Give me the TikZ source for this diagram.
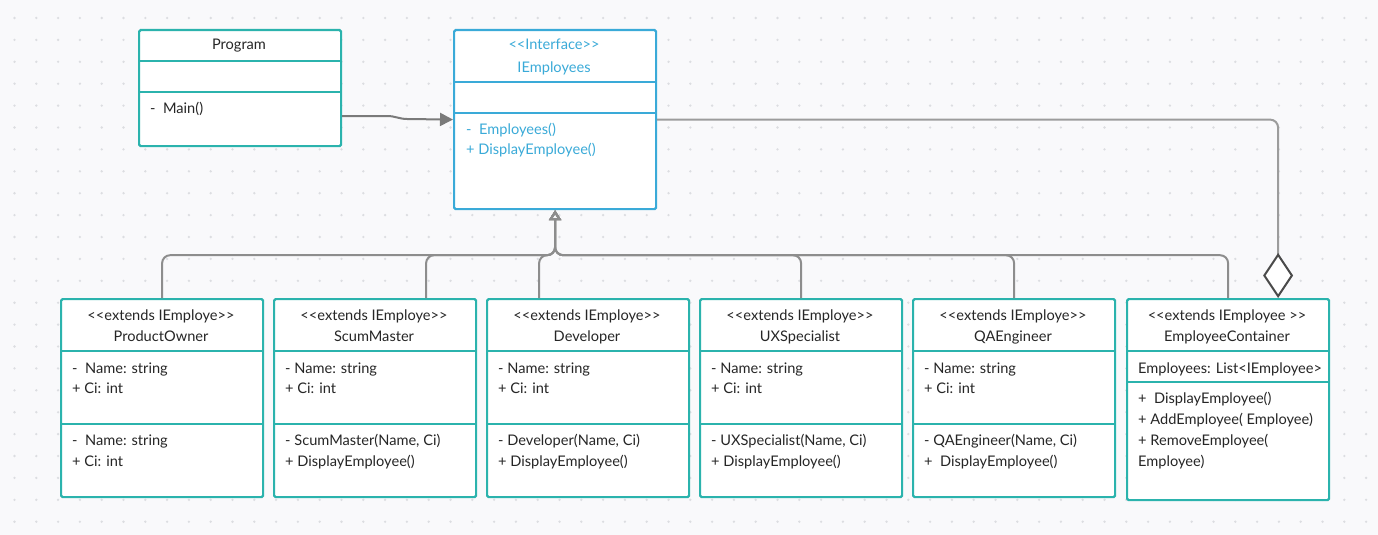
\documentclass[tikz,border=0pt]{standalone}
\usepackage{fontspec}
\setmainfont{Lato}[Ligatures=TeXOff]
\usetikzlibrary{arrows.meta,calc}
\definecolor{teal0}{HTML}{2BB3AD}
\definecolor{blue0}{HTML}{3AAAD8}
\definecolor{ink}{HTML}{262626}
\definecolor{wire}{HTML}{8D8D8D}
\definecolor{wiredark}{HTML}{7A7A7A}
\definecolor{wirelight}{HTML}{9C9C9C}
\definecolor{diam}{HTML}{4A4A4A}
\definecolor{bg}{HTML}{F9F9FB}
\definecolor{dotc}{HTML}{DCDDE1}
\newcommand\fsz{\fontsize{14.6pt}{17pt}\selectfont}
\newcommand\lsym{\symbol{60}}
\newcommand\gsym{\symbol{62}}
\begin{document}
\begin{tikzpicture}[x=1pt,y=-1pt,
  umlbox/.style={draw=teal0, line width=2.2pt, fill=white, rounded corners=1.5pt,
    minimum width=202pt, anchor=north west, inner sep=0},
  ibox/.style={umlbox, draw=blue0},
  div/.style={draw=teal0, line width=2pt},
  idiv/.style={draw=blue0, line width=2pt},
  lbl/.style={font=\fsz, text=ink, inner sep=0},
  ilbl/.style={lbl, text=blue0},
  inh/.style={draw=wire, line width=2pt, rounded corners=8pt,
    -{Triangle[open, width=12pt, length=10pt]}},
]
\fill[bg] (0,0) rectangle (1378,535);
\useasboundingbox (0,0) rectangle (1378,535);
\foreach \i in {0,...,62}{
  \foreach \j in {0,...,24}{
    \fill[dotc] (14.5+21.8*\i, 18+21.9*\j) circle (1.3pt);
  }
}

% Program
\node[umlbox, minimum height=116pt] (prog) at (138,29) {};
\draw[div] (138,61) -- (340,61);
\draw[div] (138,92) -- (340,92);
\node[lbl, anchor=base] (progT) at (239,50) {Program};
\node[lbl, anchor=base west] (progM) at (150,113) {-\ \ Main()};

% IEmployees
\node[ibox, minimum height=179pt] (ie) at (453,29) {};
\draw[idiv] (453,82) -- (655,82);
\draw[idiv] (453,113) -- (655,113);
\node[ilbl, anchor=base] (ieS) at (554,50) {\lsym\lsym Interface\gsym\gsym};
\node[ilbl, anchor=base] (ieT) at (554,72) {IEmployees};
\node[ilbl, anchor=base west] (ieM1) at (466,134) {-\ \ Employees()};
\node[ilbl, anchor=base west] (ieM2) at (466,154) {+ DisplayEmployee()};

% five subclasses
\foreach \n/\x/\cls/\aa/\ab/\ma/\mb in {
  po/60/ProductOwner/{-\ \ Name: string}/{+ Ci: int}/{-\ \ Name: string}/{+ Ci: int},
  sm/273/ScumMaster/{- Name: string}/{+ Ci: int}/{- ScumMaster(Name, Ci)}/{+ DisplayEmployee()},
  dev/486/Developer/{- Name: string}/{+ Ci: int}/{- Developer(Name, Ci)}/{+ DisplayEmployee()},
  ux/699/UXSpecialist/{- Name: string}/{+ Ci: int}/{- UXSpecialist(Name, Ci)}/{+ DisplayEmployee()},
  qa/912/QAEngineer/{- Name: string}/{+ Ci: int}/{- QAEngineer(Name, Ci)}/{+\ \ DisplayEmployee()}}{
  \node[umlbox, minimum height=198pt] (\n) at (\x,298) {};
  \draw[div] (\x,351) -- ++(202,0);
  \draw[div] (\x,424) -- ++(202,0);
  \node[lbl, anchor=base] (\n S) at (\x+101,320) {\lsym\lsym extends IEmploye\gsym\gsym};
  \node[lbl, anchor=base] (\n T) at (\x+101,341) {\cls};
  \node[lbl, anchor=base west] (\n A1) at (\x+12,373) {\aa};
  \node[lbl, anchor=base west] (\n A2) at (\x+12,393) {\ab};
  \node[lbl, anchor=base west] (\n M1) at (\x+12,445) {\ma};
  \node[lbl, anchor=base west] (\n M2) at (\x+12,466) {\mb};
}

% EmployeeContainer
\node[umlbox, minimum height=201pt] (ec) at (1126,298) {};
\draw[div] (1126,351) -- (1328,351);
\draw[div] (1126,382) -- (1328,382);
\node[lbl, anchor=base] (ecS) at (1227,320) {\lsym\lsym extends IEmployee \gsym\gsym};
\node[lbl, anchor=base] (ecT) at (1227,341) {EmployeeContainer};
\node[lbl, anchor=base west] (ecA) at (1138,373) {Employees: List\lsym IEmployee\gsym};
\node[lbl, anchor=base west] (ecM1) at (1138,403) {+\ \ DisplayEmployee()};
\node[lbl, anchor=base west] (ecM2) at (1138,424) {+ AddEmployee( Employee)};
\node[lbl, anchor=base west] (ecM3) at (1138,445) {+ RemoveEmployee(};
\node[lbl, anchor=base west] (ecM4) at (1138,466) {Employee)};

% Program -> IEmployees
\draw[draw=wiredark, line width=2pt, -{Triangle[width=13pt, length=13pt]}]
  ($(prog.north east)+(0,87)$) -- ++(45,0) to[out=0, in=180] ++(20,3) -- (ie.west);

% inheritance
\coordinate (jn) at ($(ie.south)+(0,45)$);
\draw[inh] (po.north) |- (jn) -- (ie.south);
\draw[inh] ($(sm.north)+(51,0)$) |- (jn) -- (ie.south);
\draw[inh] ($(dev.north)+(-49,0)$) |- (jn) -- (ie.south);
\draw[inh] (ux.north) |- (jn) -- (ie.south);
\draw[inh] (qa.north) |- (jn) -- (ie.south);
\draw[inh] (ec.north) |- (jn) -- (ie.south);

% aggregation
\draw[draw=wirelight, line width=2pt, rounded corners=8pt,
  {Diamond[fill=white, color=diam, width=30pt, length=45pt]}-]
  ($(ec.north)+(50,0)$) |- (ie.east);
\end{tikzpicture}
\end{document}
